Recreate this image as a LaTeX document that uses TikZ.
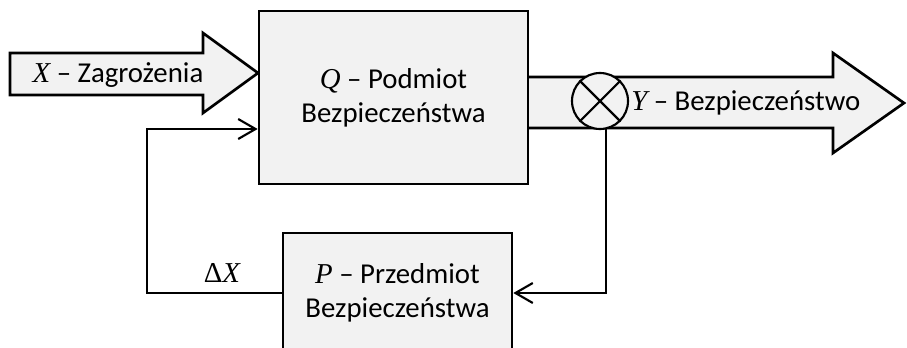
\documentclass[tikz,border=0pt]{standalone}
\usepackage{fontspec}
\setmainfont{Carlito}
\newfontfamily\varfont{Liberation Serif}
\newcommand{\vv}[1]{{\varfont\itshape #1}}
\usetikzlibrary{arrows.meta,calc}
\definecolor{boxfill}{HTML}{F2F2F2}
\tikzset{
  blockbox/.style={draw=black, line width=2pt, fill=boxfill, rectangle, align=center, inner sep=0pt},
  bigarrow/.style={draw=black, line width=2pt, fill=boxfill, line join=miter},
  conn/.style={draw=black, line width=1.6pt, -{Straight Barb[length=13pt,width=15pt,line width=1.6pt]}},
  plain/.style={draw=black, line width=1.6pt},
  lbl/.style={font=\fontsize{21.6}{25.5}\selectfont, inner sep=0pt},
}
\begin{document}
\begin{tikzpicture}[x=0.75pt,y=-0.75pt]
\useasboundingbox (0,0) rectangle (907,347);
\clip (0,0) rectangle (907,347);
% input arrow
\draw[bigarrow] (10,53) -- (203,53) -- (203,33) -- (258,73) -- (203,113) -- (203,95) -- (10,95) -- cycle;
\node[lbl] (xlab) at (118,75) {\vv{X} – Zagrożenia};
% output arrow
\draw[bigarrow] (529,77) -- (833,77) -- (833,53) -- (904,103) -- (833,153) -- (833,128) -- (529,128);
% Q block
\node[blockbox, lbl, minimum width=201.75pt, minimum height=129.75pt] (Q) at (393.5,97.5) {\vv{Q} – Podmiot\\Bezpieczeństwa};
% summing circle
\node[draw=black, line width=1.6pt, fill=boxfill, circle, minimum size=42pt, inner sep=0pt] (circ) at (600,101) {};
\draw[plain] (circ.45) -- (circ.225);
\draw[plain] (circ.135) -- (circ.315);
\node[lbl, anchor=west] (ylab) at (631,103) {\vv{Y} – Bezpieczeństwo};
% P block
\node[blockbox, lbl, minimum width=171.75pt, minimum height=90pt] (P) at (397.5,293) {\vv{P} – Przedmiot\\Bezpieczeństwa};
% feedback
\coordinate (fbl) at (147,129);
\draw[conn] (circ.-78) |- (P.east);
\draw[conn] (P.west) -| (fbl) -- (fbl -| Q.west);
\node[lbl] (dx) at (222,273) {{\varfont Δ}\vv{X}};
\end{tikzpicture}
\end{document}
